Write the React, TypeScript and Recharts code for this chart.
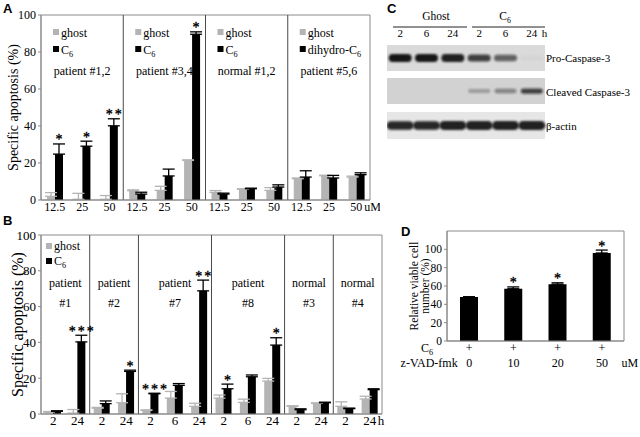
import React from "react";
import {
  BarChart, Bar, XAxis, YAxis, ErrorBar, ReferenceArea, ReferenceLine, LabelList,
  ScatterChart, Scatter,
} from "recharts";

const SERIF = "'Liberation Serif', 'Times New Roman', serif";
const SANS = "'Liberation Sans', Arial, sans-serif";
const GREY = "#b4b4b4";
const FRAME = "#8a8a8a";
const DIVIDER = "#4a4a4a";

// ---- A: dose response, uM ----
const aDoses = ["12.5", "25", "50", "12.5", "25", "50", "12.5", "25", "50", "12.5", "25", "50"];
const aGhost = [2.0, 0.4, 0.4, 5.0, 5.2, 21.4, 4.1, 5.8, 5.2, 11.5, 13.1, 12.4];
const aGhostErr = [2.0, 3.2, 2.0, 0.5, 2.2, 0.3, 1.0, 0.3, 1.5, 0.4, 0.3, 0.5];
const aC6 = [24.8, 29.1, 40.1, 3.2, 13.0, 89.6, 3.2, 6.1, 7.0, 12.4, 11.9, 13.7];
const aC6Err = [5.5, 2.7, 3.8, 1.0, 3.7, 1.3, 0.5, 0.3, 1.2, 3.4, 1.4, 1.0];
const aStars = ["*", "*", "**", "", "", "*", "", "", "", "", "", ""];
const aGroups = [
  { from: 0, to: 2, name: "patient #1,2", drug: "C" },
  { from: 3, to: 5, name: "patient #3,4", drug: "C" },
  { from: 6, to: 8, name: "normal #1,2", drug: "C" },
  { from: 9, to: 11, name: "patient #5,6", drug: "dihydro-C" },
];

// ---- B: time course, h ----
const bHours = ["2", "24", "2", "24", "2", "6", "24", "2", "6", "24", "2", "24", "2", "24"];
const bGhost = [1.1, 0.5, 3.2, 6.3, 2.0, 8.9, 4.3, 8.9, 6.5, 18.4, 4.3, 5.9, 4.3, 8.4];
const bGhostErr = [0.3, 2.0, 0.5, 5.0, 0.3, 3.7, 1.7, 1.7, 1.8, 1.5, 0.3, 0.3, 2.5, 1.5];
const bC6 = [1.5, 40.3, 5.8, 23.8, 11.3, 16.0, 68.8, 14.1, 20.8, 38.5, 2.4, 6.3, 3.0, 13.6];
const bC6Err = [0.3, 3.7, 1.5, 0.7, 0.3, 1.0, 6.0, 2.6, 1.0, 4.1, 0.5, 0.3, 0.3, 0.5];
const bStars = ["", "***", "", "*", "***", "", "**", "*", "", "*", "", "", "", ""];
const bGroups = [
  { from: 0, to: 1, kind: "patient", id: "#1" },
  { from: 2, to: 3, kind: "patient", id: "#2" },
  { from: 4, to: 6, kind: "patient", id: "#7" },
  { from: 7, to: 9, kind: "patient", id: "#8" },
  { from: 10, to: 11, kind: "normal", id: "#3" },
  { from: 12, to: 13, kind: "normal", id: "#4" },
];

// ---- C: western blot, band intensity per lane (0..1) ----
const laneHours = ["2", "6", "24", "2", "6", "24"];
const proCasp3 = [1.0, 1.0, 0.95, 0.8, 0.6, 0.03];
const cleavedCasp3 = [0, 0, 0, 0.3, 0.42, 0.75];
const betaActin = [0.92, 0.92, 0.95, 0.95, 0.95, 0.95];

// ---- D: z-VAD-fmk rescue ----
const dZvad = ["0", "10", "20", "50"];
const dC6 = ["+", "+", "+", "+"];
const dViable = [48, 57, 62, 96];
const dErr = [0.3, 2.0, 1.5, 3.2];
const dStars = ["", "*", "*", "*"];

const aData = aDoses.map((d, i) => ({ x: i, ghost: aGhost[i], ghostErr: [0, aGhostErr[i]], c6: aC6[i], c6Err: [0, aC6Err[i]] }));
const bData = bHours.map((d, i) => ({ x: i, ghost: bGhost[i], ghostErr: [0, bGhostErr[i]], c6: bC6[i], c6Err: [0, bC6Err[i]] }));
const dData = dZvad.map((z, i) => ({ z, viable: dViable[i], err: [0, dErr[i]] }));

function Sub6({ x, y, pre, size, anchor = "start" }: any) {
  return (
    <text x={x} y={y} fontFamily={SERIF} fontSize={size} textAnchor={anchor}>
      {pre}<tspan dy={3} fontSize={size * 0.68}>6</tspan>
    </text>
  );
}

// asterisks sit on top of the error bar; px/unit taken from the bar itself
const starContent = (stars: string[], errs: number[]) => (p: any) => {
  const i = p.index;
  const s = stars[i];
  const vb = p.viewBox;
  const v = Number(p.value);
  if (!s || !vb || !v) return null;
  const k = Math.abs(vb.height) / v;
  const top = Math.min(vb.y, vb.y + vb.height) - errs[i] * k;
  return (
    <text x={vb.x + vb.width / 2 + 1} y={top + 0.5} textAnchor="middle" fontFamily={SERIF} fontSize={14}
      letterSpacing={2} fill="#000" stroke="#000" strokeWidth={0.35}>
      {s}
    </text>
  );
};

function YTitle(props: any) {
  const vb = props.viewBox;
  if (!vb) return null;
  const cy = vb.y + vb.height / 2;
  return (
    <g>
      {props.lines.map((t: string, i: number) => (
        <text key={t} transform={`translate(${props.bx + i * props.gap},${cy}) rotate(-90)`} textAnchor="middle" fontFamily={SERIF} fontSize={props.size}>
          {t}
        </text>
      ))}
    </g>
  );
}

function CatTick(props: any) {
  const { x, y, payload, labels, unit, size } = props;
  const i = Math.round(payload.value);
  return (
    <g fontFamily={SERIF} fontSize={size}>
      <text x={x} y={y + 11} textAnchor="middle">{labels[i]}</text>
      {i === labels.length - 1 ? <text x={x + 8} y={y + 11}>{unit}</text> : null}
    </g>
  );
}

function GroupTextA(props: any) {
  const vb = props.viewBox;
  if (!vb) return null;
  const lx = vb.x + 12;
  return (
    <g fontFamily={SERIF} fontSize={12}>
      <rect x={lx} y={vb.y + 14} width={6} height={6} fill={GREY} />
      <text x={lx + 8} y={vb.y + 22}>ghost</text>
      <rect x={lx} y={vb.y + 31} width={6} height={6} fill="#000" />
      <Sub6 x={lx + 8} y={vb.y + 39} pre={props.drug} size={12} />
      <text x={vb.x + vb.width / 2} y={vb.y + 60} textAnchor="middle">{props.name}</text>
    </g>
  );
}

function GroupTextB(props: any) {
  const vb = props.viewBox;
  if (!vb) return null;
  const lx = vb.x + 5;
  const cx = vb.x + vb.width / 2;
  return (
    <g fontFamily={SERIF} fontSize={12}>
      {props.legend ? (
        <g>
          <rect x={lx} y={vb.y + 8} width={6} height={6} fill={GREY} />
          <text x={lx + 8} y={vb.y + 15}>ghost</text>
          <rect x={lx} y={vb.y + 23} width={6} height={6} fill="#000" />
          <Sub6 x={lx + 8} y={vb.y + 30} pre="C" size={12} />
        </g>
      ) : null}
      <text x={cx} y={vb.y + 52} textAnchor="middle">{props.kind}</text>
      <text x={cx} y={vb.y + 72} textAnchor="middle">{props.id}</text>
    </g>
  );
}

function DTick(props: any) {
  const { x, y, payload, index } = props;
  return (
    <g fontFamily={SERIF} fontSize={12}>
      <text x={x} y={y + 11} textAnchor="middle">{dC6[index]}</text>
      <text x={x} y={y + 26} textAnchor="middle">{payload.value}</text>
      {index === 0 ? (
        <g>
          <Sub6 x={x - 42} y={y + 11} pre="C" size={12} anchor="middle" />
          <text x={x - 40} y={y + 26} textAnchor="middle">z-VAD-fmk</text>
        </g>
      ) : null}
      {index === dZvad.length - 1 ? <text x={x + 28} y={y + 26} textAnchor="middle">uM</text> : null}
    </g>
  );
}

// lane labels sit on a fixed baseline above the first strip
function LaneTick(props: any) {
  const { x, payload } = props;
  const i = Math.round(payload.value);
  return (
    <g fontFamily={SERIF} fontSize={11}>
      <text x={x} y={14} textAnchor="middle">{laneHours[i]}</text>
      {i === laneHours.length - 1 ? <text x={x + 10} y={14}>h</text> : null}
    </g>
  );
}

const yTick = (size: number) => ({ fontSize: size, fontFamily: SERIF, fill: "#000" });

function ApoptosisPanel({ data, labels, unit, stars, c6Err, groups, kind, size, title }: any) {
  const n = labels.length;
  const isA = kind === "A";
  return (
    <BarChart width={isA ? 380 : 395} height={215} data={data} barGap={0}
      margin={{ top: 15, right: isA ? 10 : 13, bottom: 0, left: 0 }}>
      <XAxis type="number" dataKey="x" domain={[-0.5, n - 0.5]} ticks={data.map((d: any) => d.x)} interval={0}
        tickLine={false} tickSize={0} tickMargin={0} height={isA ? 15 : 21} axisLine={{ stroke: FRAME }}
        tick={<CatTick labels={labels} unit={unit} size={size} />} />
      <YAxis type="number" domain={[0, 100]} ticks={[0, 20, 40, 60, 80, 100]} width={41} tickSize={3}
        tick={yTick(size)} tickLine={{ stroke: FRAME }} axisLine={{ stroke: FRAME }}
        label={<YTitle lines={["Specific apoptosis (%)"]} bx={isA ? 18 : 23} gap={0} size={title} />} />
      <ReferenceArea x1={-0.5} x2={n - 0.5} y1={0} y2={100} fill="none" stroke={FRAME} />
      {groups.map((g: any, i: number) => (
        <ReferenceArea key={i} x1={g.from - 0.5} x2={g.to + 0.5} y1={0} y2={100} fill="none" stroke="none"
          label={isA ? <GroupTextA name={g.name} drug={g.drug} /> : <GroupTextB kind={g.kind} id={g.id} legend={i === 0} />} />
      ))}
      {groups.slice(0, -1).map((g: any, i: number) => (
        <ReferenceLine key={`d${i}`} x={g.to + 0.5} stroke={DIVIDER} strokeWidth={1} />
      ))}
      <Bar dataKey="ghost" fill={GREY} barSize={8} isAnimationActive={false}>
        <ErrorBar dataKey="ghostErr" direction="y" width={6} stroke={GREY} strokeWidth={1.3} isAnimationActive={false} />
      </Bar>
      <Bar dataKey="c6" fill="#000" barSize={8} isAnimationActive={false}>
        <ErrorBar dataKey="c6Err" direction="y" width={6} stroke="#000" strokeWidth={1.3} isAnimationActive={false} />
        <LabelList dataKey="c6" content={starContent(stars, c6Err)} />
      </Bar>
    </BarChart>
  );
}

function Band(p: any) {
  const v = p.payload.v;
  if (!v || v < 0.02) return null;
  const h = p.bandH * (0.5 + 0.5 * v);
  return (
    <rect x={p.cx - p.bandW / 2} y={p.cy - h / 2} width={p.bandW} height={h} rx={h / 2}
      fill="#151515" fillOpacity={Math.min(1, v)} filter="url(#blotBlur)" />
  );
}

function BlotStrip({ values, bg, h, bandH, bandW, lanes }: any) {
  const data = values.map((v: number, i: number) => ({ x: i, y: 0.5, v }));
  return (
    <ScatterChart width={170} height={h + (lanes ? 22 : 0)} margin={{ top: 0, right: 12, bottom: 0, left: 0 }}>
      <XAxis type="number" dataKey="x" domain={[-0.5, 5.5]} ticks={[0, 1, 2, 3, 4, 5]} interval={0}
        orientation="top" hide={!lanes} height={22} axisLine={false} tickLine={false} tickSize={0} tickMargin={0}
        tick={<LaneTick />} />
      <YAxis type="number" dataKey="y" domain={[0, 1]} hide />
      <ReferenceArea x1={-0.5} x2={5.5} y1={0} y2={1} fill={bg} fillOpacity={1} stroke="none" />
      <Scatter data={data} isAnimationActive={false} shape={(p: any) => <Band {...p} bandH={bandH} bandW={bandW} />} />
    </ScatterChart>
  );
}

export default function App() {
  const abs = (left: number, top: number): React.CSSProperties => ({ position: "absolute", left, top });
  return (
    <div style={{ position: "absolute", left: 0, top: 0, width: 640, height: 437, background: "#fff", overflow: "hidden" }}>
      <div style={abs(0, 0)}>
        <ApoptosisPanel kind="A" data={aData} labels={aDoses} unit="uM" stars={aStars} c6Err={aC6Err} groups={aGroups} size={12} title={14} />
      </div>
      <div style={abs(0, 220)}>
        <ApoptosisPanel kind="B" data={bData} labels={bHours} unit="h" stars={bStars} c6Err={bC6Err} groups={bGroups} size={13} title={16} />
      </div>

      <div style={abs(387, 23)}>
        <BlotStrip values={proCasp3} bg="#dadada" h={26} bandH={8} bandW={23} lanes />
      </div>
      <div style={abs(387, 78)}>
        <BlotStrip values={cleavedCasp3} bg="#d2d2d2" h={26} bandH={6} bandW={22} />
      </div>
      <div style={abs(387, 112)}>
        <BlotStrip values={betaActin} bg="#e6e6e6" h={27} bandH={9} bandW={27} />
      </div>

      <div style={abs(400, 220)}>
        <BarChart width={240} height={151} data={dData} margin={{ top: 11, right: 16, bottom: 0, left: 0 }}>
          <XAxis dataKey="z" interval={0} tickLine={false} tickSize={0} tickMargin={0} height={30}
            axisLine={{ stroke: FRAME }} tick={<DTick />} />
          <YAxis type="number" domain={[0, 120]} ticks={[0, 20, 40, 60, 80, 100]} width={47} tickSize={3}
            tick={yTick(11.5)} tickLine={{ stroke: FRAME }} axisLine={{ stroke: FRAME }}
            label={<YTitle lines={["Relative viable cell", "number (%)"]} bx={18} gap={11} size={11.5} />} />
          <ReferenceArea x1={dZvad[0]} x2={dZvad[dZvad.length - 1]} y1={0} y2={120} fill="none" stroke={FRAME} />
          <Bar dataKey="viable" fill="#000" barSize={18} isAnimationActive={false}>
            <ErrorBar dataKey="err" direction="y" width={6} stroke="#000" strokeWidth={1.3} isAnimationActive={false} />
            <LabelList dataKey="viable" content={starContent(dStars, dErr)} />
          </Bar>
        </BarChart>
      </div>

      <svg width={640} height={437} style={{ position: "absolute", left: 0, top: 0, pointerEvents: "none" }}>
        <defs>
          <filter id="blotBlur" x="-20%" y="-60%" width="140%" height="220%">
            <feGaussianBlur stdDeviation="1.1" />
          </filter>
        </defs>
        <g fontFamily={SANS} fontWeight="bold" fontSize={13}>
          <text x={3} y={13}>A</text>
          <text x={3} y={225}>B</text>
          <text x={387} y={13}>C</text>
          <text x={401} y={236}>D</text>
        </g>
        <text x={436} y={20} textAnchor="middle" fontFamily={SERIF} fontSize={11.5}>Ghost</text>
        <line x1={393} x2={467} y1={27} y2={27} stroke="#222" strokeWidth={1} />
        <Sub6 x={505} y={20} pre="C" size={11.5} anchor="middle" />
        <line x1={472} x2={545} y1={27} y2={27} stroke="#222" strokeWidth={1} />
        <g fontFamily={SERIF} fontSize={11}>
          <text x={546} y={62}>Pro-Caspase-3</text>
          <text x={546} y={96}>Cleaved Caspase-3</text>
          <text x={546} y={130}>β-actin</text>
        </g>
      </svg>
    </div>
  );
}
